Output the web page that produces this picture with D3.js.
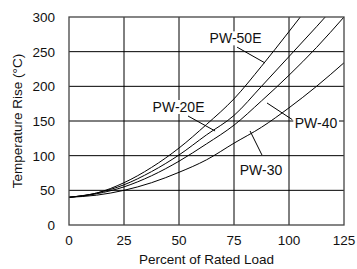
<!DOCTYPE html>
<html lang="en">
<head>
  <meta charset="UTF-8">
  <title>Temperature Rise vs Percent of Rated Load</title>
  <script src="https://d3js.org/d3.v7.min.js"></script>
  <style>
    body {
      margin: 0;
      background: #fff;
      font-family: "Liberation Sans", Arial, sans-serif;
    }
  </style>
</head>
<body>
<script>
const width = 357;
const height = 269;
const margin = {top: 17, right: 13, bottom: 44, left: 69};

// load in percent
const load = [0, 12.5, 25, 37.5, 50, 62.5, 75, 87.5, 100, 112.5, 125];
const pw50e = [40, 46, 61, 83, 111, 145, 182, 229, 279, 330, 380];
const pw20e = [40, 46, 58, 77, 101, 130, 158, 200, 243, 286, 330];
const pw40  = [40, 45, 55, 71, 92, 117, 144, 179, 216, 256, 300];
const pw30  = [40, 43, 50, 61, 76, 94, 118, 141, 169, 200, 234];

const xTicks = [0, 25, 50, 75, 100, 125];
const yTicks = [0, 50, 100, 150, 200, 250, 300];

const series = [
  {name: "PW-50E", values: pw50e},
  {name: "PW-20E", values: pw20e},
  {name: "PW-40", values: pw40},
  {name: "PW-30", values: pw30}
];

// label text position + leader line (data units)
const notes = [
  {name: "PW-50E", at: [75.7, 262], from: [76.4, 256.5], to: [89.1, 233.7]},
  {name: "PW-20E", at: [49.8, 163], from: [54.1, 157.2], to: [66.4, 135.6]},
  {name: "PW-40", at: [112.3, 140], from: [101.5, 152], to: [90, 176]},
  {name: "PW-30", at: [87.3, 72], from: [87.7, 101], to: [82.3, 135.6]}
];

const svg = d3.select("body").append("svg")
  .attr("width", width)
  .attr("height", height);

const x = d3.scaleLinear().domain([0, 125]).range([margin.left, width - margin.right]);
const y = d3.scaleLinear().domain([0, 300]).range([height - margin.bottom, margin.top]);

svg.append("defs").append("clipPath")
  .attr("id", "plot")
  .append("rect")
  .attr("x", x(0)).attr("y", y(300))
  .attr("width", x(125) - x(0)).attr("height", y(0) - y(300));

// grid
svg.append("g")
  .selectAll("line")
  .data(xTicks.slice(1, -1))
  .join("line")
  .attr("x1", d => x(d)).attr("x2", d => x(d))
  .attr("y1", y(0)).attr("y2", y(300))
  .attr("stroke", "#000").attr("stroke-width", 1);

svg.append("g")
  .selectAll("line")
  .data(yTicks.slice(1, -1))
  .join("line")
  .attr("x1", x(0)).attr("x2", x(125))
  .attr("y1", d => y(d)).attr("y2", d => y(d))
  .attr("stroke", "#000").attr("stroke-width", 1);

// curves
const line = d3.line()
  .x((d, i) => x(load[i]))
  .y(d => y(d))
  .curve(d3.curveMonotoneX);

svg.append("g")
  .attr("clip-path", "url(#plot)")
  .selectAll("path")
  .data(series)
  .join("path")
  .attr("d", d => line(d.values))
  .attr("fill", "none")
  .attr("stroke", "#000")
  .attr("stroke-width", 1);

// frame
svg.append("rect")
  .attr("x", x(0)).attr("y", y(300))
  .attr("width", x(125) - x(0)).attr("height", y(0) - y(300))
  .attr("fill", "none")
  .attr("stroke", "#444")
  .attr("stroke-width", 1.3);

// labels
const lab = svg.append("g");
notes.forEach(n => {
  const t = lab.append("text")
    .attr("x", x(n.at[0]))
    .attr("y", y(n.at[1]))
    .attr("text-anchor", "middle")
    .attr("font-size", 14)
    .attr("fill", "#111")
    .text(n.name);
  const b = t.node().getBBox();
  lab.insert("rect", "text")
    .attr("x", b.x - 1.5).attr("y", b.y + 1)
    .attr("width", b.width + 3).attr("height", b.height - 2)
    .attr("fill", "#fff");
  lab.append("line")
    .attr("x1", x(n.from[0])).attr("y1", y(n.from[1]))
    .attr("x2", x(n.to[0])).attr("y2", y(n.to[1]))
    .attr("stroke", "#000").attr("stroke-width", 1);
});

// tick labels
svg.append("g")
  .selectAll("text")
  .data(yTicks)
  .join("text")
  .attr("x", x(0) - 14)
  .attr("y", d => y(d) + 5)
  .attr("text-anchor", "end")
  .attr("font-size", 13.5)
  .attr("fill", "#111")
  .text(d => d);

svg.append("g")
  .selectAll("text")
  .data(xTicks)
  .join("text")
  .attr("x", d => x(d))
  .attr("y", y(0) + 20)
  .attr("text-anchor", "middle")
  .attr("font-size", 13.5)
  .attr("fill", "#111")
  .text(d => d);

svg.append("text")
  .attr("x", (x(0) + x(125)) / 2)
  .attr("y", height - 5)
  .attr("text-anchor", "middle")
  .attr("font-size", 13.5)
  .attr("fill", "#111")
  .text("Percent of Rated Load");

svg.append("text")
  .attr("transform", `translate(22,${(y(0) + y(300)) / 2}) rotate(-90)`)
  .attr("text-anchor", "middle")
  .attr("font-size", 13.5)
  .attr("fill", "#111")
  .text("Temperature Rise (°C)");
</script>
</body>
</html>
